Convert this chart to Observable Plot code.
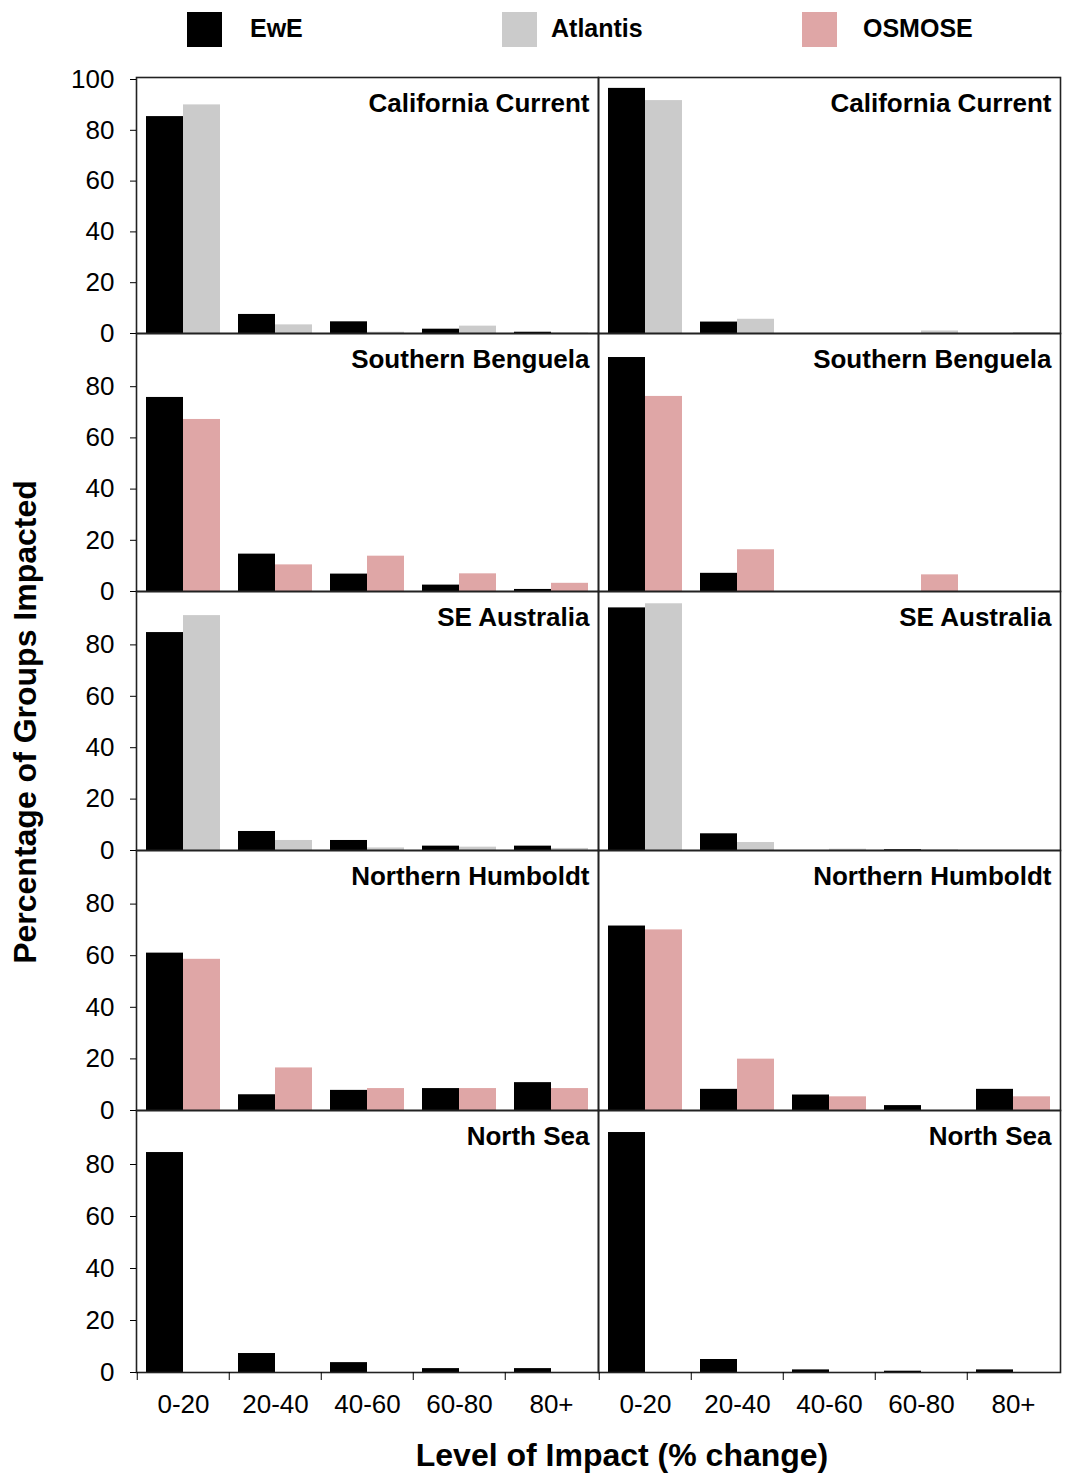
<!DOCTYPE html>
<html><head><meta charset="utf-8">
<script src="https://cdn.jsdelivr.net/npm/d3@7"></script>
<script src="https://cdn.jsdelivr.net/npm/@observablehq/plot@0.6"></script>
<style>
body{margin:0;background:#fff;font-family:"Liberation Sans",Arial,sans-serif;color:#000;}
#wrap{position:relative;width:1065px;height:1483px;overflow:hidden;background:#fff;}
.abs{position:absolute;white-space:nowrap;}
</style></head><body><div id="wrap"></div>
<script>
const categories = ["0-20","20-40","40-60","60-80","80+"];
const regions = ["California Current","Southern Benguela","SE Australia","Northern Humboldt","North Sea"];
const seriesNames = ["EwE","Atlantis","OSMOSE"];
const seriesColors = ["#000000","#cbcbcb","#dfa6a6"];
const secondSeries = ["Atlantis","OSMOSE","Atlantis","OSMOSE",null];
const yTicksTop = [0,20,40,60,80,100];
const yTicks = [0,20,40,60,80];
const xTitle = "Level of Impact (% change)";
const yTitle = "Percentage of Groups Impacted";

// left column panels
const eweLeft = [
  [85.4, 7.5, 4.6, 1.7, 0.5],
  [75.8, 14.6, 6.8, 2.5, 0.8],
  [84.8, 7.4, 3.9, 1.7, 1.7],
  [61.0, 6.1, 7.8, 8.5, 10.8],
  [84.6, 7.3, 3.8, 1.5, 1.5]
];
const otherLeft = [
  [90.0, 3.4, 0.5, 2.9, 0.2],
  [67.2, 10.4, 13.8, 6.9, 3.2],
  [91.4, 3.9, 1.0, 1.3, 0.8],
  [58.6, 16.5, 8.5, 8.5, 8.5],
  null
];
// right column panels
const eweRight = [
  [96.5, 4.5, 0, 0, 0],
  [91.4, 7.1, 0, 0, 0],
  [94.4, 6.5, 0, 0.3, 0],
  [71.5, 8.2, 6.0, 1.9, 8.2],
  [92.3, 5.0, 1.0, 0.5, 1.0]
];
const otherRight = [
  [91.7, 5.6, 0, 1.0, 0.3],
  [76.2, 16.3, 0, 6.5, 0],
  [96.0, 3.1, 0.5, 0.3, 0],
  [70.0, 19.9, 5.3, 0, 5.3],
  null
];

const wrap = document.getElementById("wrap");
const FONT = '"Liberation Sans", Arial, sans-serif';

// legend
const legendSwatchX = [187, 502, 802];
const legendTextX = [250, 551, 863];
seriesNames.forEach((s, i) => {
  const sw = document.createElement("div");
  sw.className = "abs";
  Object.assign(sw.style, {left: legendSwatchX[i]+"px", top: "12px", width: "35px", height: "35px", background: seriesColors[i]});
  wrap.appendChild(sw);
  const t = document.createElement("div");
  t.className = "abs";
  t.textContent = s;
  Object.assign(t.style, {left: legendTextX[i]+"px", top: "28px", transform: "translateY(-50%)", fontWeight: "bold", fontSize: "25px", lineHeight: "1"});
  wrap.appendChild(t);
});

const panelTops = [77, 333, 591, 850, 1110];
const panelBottoms = [333, 591, 850, 1110, 1372];
const W = 1065, ML = 135, MR = 5;
const step = (W - ML - MR) / 2 / categories.length;
const half = step * 0.4;

regions.forEach((reg, r) => {
  const mt = 16, mb = r === 4 ? 60 : 16;
  const h = panelBottoms[r] - panelTops[r];
  const data = [];
  [["L", eweLeft[r], otherLeft[r]], ["R", eweRight[r], otherRight[r]]].forEach(([col, ewe, oth]) => {
    categories.forEach((c, i) => {
      data.push({col, cat: c, series: "EwE", value: ewe[i]});
      if (oth) data.push({col, cat: c, series: secondSeries[r], value: oth[i]});
    });
  });
  const marks = [
    Plot.barY(data.filter(d => d.series === "EwE"), {fx: "col", x: "cat", y: "value", fill: "series", insetRight: half}),
    Plot.barY(data.filter(d => d.series !== "EwE"), {fx: "col", x: "cat", y: "value", fill: "series", insetLeft: half}),
    Plot.frame({stroke: "#222", strokeWidth: 1.6}),
    Plot.axisY({ticks: r === 0 ? yTicksTop : yTicks, tickSize: 6, tickPadding: 16, fontSize: 26, label: null}),
    Plot.text([{col: "L"}, {col: "R"}], {fx: "col", text: () => reg, frameAnchor: "top-right", dx: -9, dy: 26, lineAnchor: "middle", fontWeight: "bold", fontSize: 26})
  ];
  if (r === 4) {
    marks.push(Plot.axisX({tickSize: 0, tickPadding: 22, fontSize: 26, label: null}));
    marks.push(Plot.axisX({tickSize: 8, text: null, dx: -step / 2, label: null}));
  }
  const xOpts = {domain: categories, paddingInner: 0.2, paddingOuter: 0.1, label: null};
  if (r !== 4) xOpts.axis = null;
  const plot = Plot.plot({
    width: W, height: mt + h + mb,
    marginTop: mt, marginBottom: mb, marginLeft: ML, marginRight: MR,
    fx: {domain: ["L", "R"], padding: 0, axis: null, label: null},
    x: xOpts,
    y: {domain: [0, 100], insetTop: 2, label: null},
    color: {domain: seriesNames, range: seriesColors},
    style: {fontFamily: FONT, fontSize: "26px", background: "transparent", overflow: "visible", color: "#000"},
    marks
  });
  plot.style.position = "absolute";
  plot.style.left = "0px";
  plot.style.top = (panelTops[r] - mt) + "px";
  wrap.appendChild(plot);
});

const xt = document.createElement("div");
xt.className = "abs";
xt.textContent = xTitle;
Object.assign(xt.style, {left: "622px", top: "1455px", transform: "translate(-50%,-50%)", fontWeight: "bold", fontSize: "32px", lineHeight: "1"});
wrap.appendChild(xt);

const yt = document.createElement("div");
yt.className = "abs";
yt.textContent = yTitle;
Object.assign(yt.style, {left: "25px", top: "722px", transform: "translate(-50%,-50%) rotate(-90deg)", fontWeight: "bold", fontSize: "32px", lineHeight: "1"});
wrap.appendChild(yt);
</script></body></html>
